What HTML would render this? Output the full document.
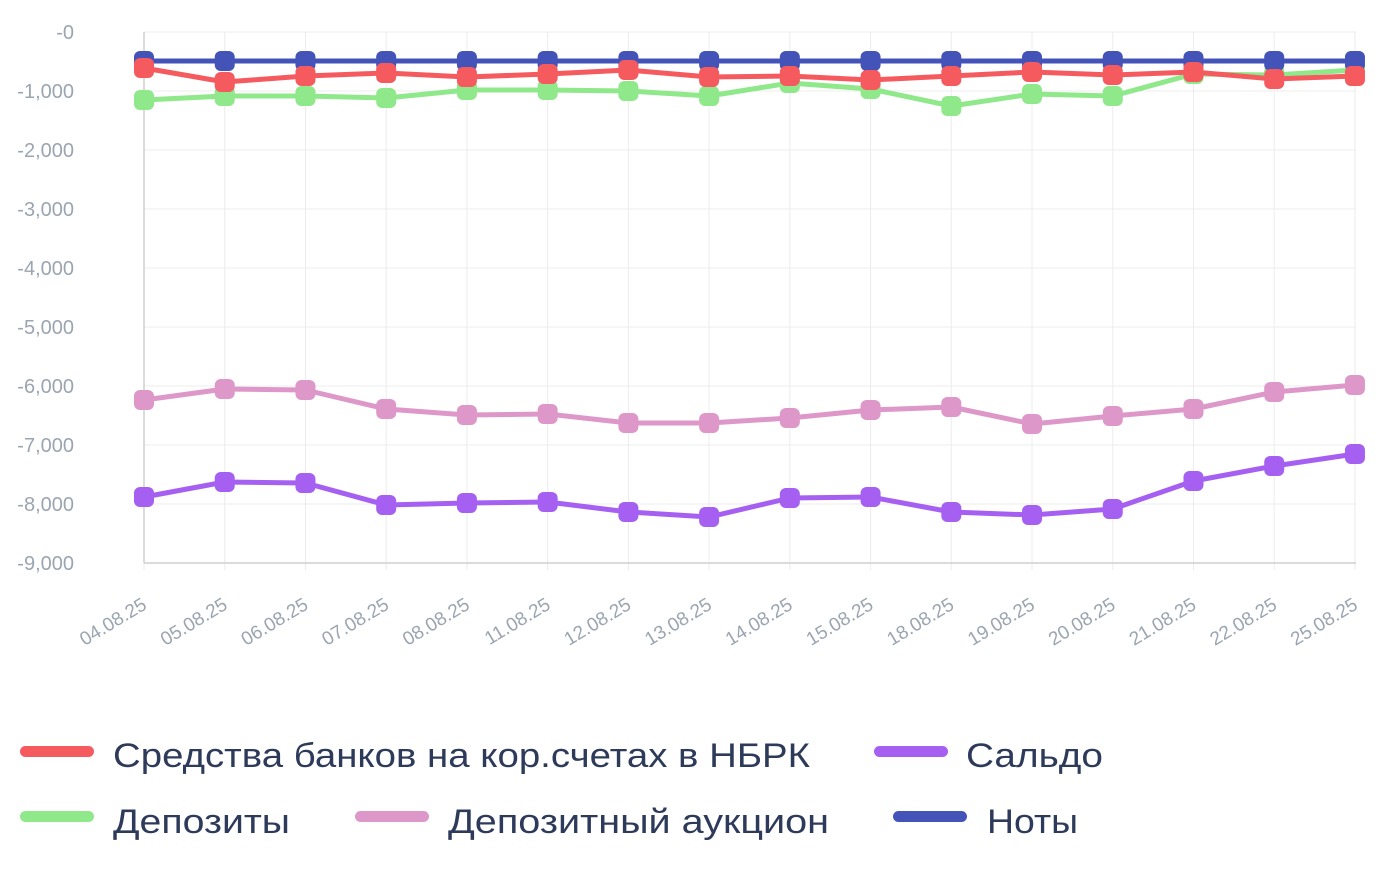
<!DOCTYPE html><html><head><meta charset="utf-8"><style>body{margin:0;background:#fff}svg{display:block}</style></head><body>
<svg width="1389" height="872" xmlns="http://www.w3.org/2000/svg" font-family="Liberation Sans, sans-serif">
<g id="grid" stroke="#ececec" stroke-width="1"></g>
<g id="ylab" fill="#9aa5b1" font-size="20" text-anchor="end"></g>
<g id="xlab" fill="#9aa5b1" font-size="19" text-anchor="end"></g>
<line x1="144" y1="32" x2="144" y2="563" stroke="#cfcfcf" stroke-width="1.5"/>
<line x1="144" y1="563" x2="1356" y2="563" stroke="#cfcfcf" stroke-width="1.5"/>
<g id="series"></g>
<g font-size="34" fill="#2d3a5a" lengthAdjust="spacingAndGlyphs">
<rect x="20" y="746" width="74" height="11" rx="5.5" fill="#f55a5f"/><text x="113" y="767" textLength="697" lengthAdjust="spacingAndGlyphs">Средства банков на кор.счетах в НБРК</text>
<rect x="874" y="746" width="74" height="11" rx="5.5" fill="#a560f2"/><text x="966" y="767" textLength="137" lengthAdjust="spacingAndGlyphs">Сальдо</text>
<rect x="20" y="811" width="74" height="11" rx="5.5" fill="#8fe88a"/><text x="113" y="833" textLength="177" lengthAdjust="spacingAndGlyphs">Депозиты</text>
<rect x="355" y="811" width="74" height="11" rx="5.5" fill="#dd98c9"/><text x="448" y="833" textLength="381" lengthAdjust="spacingAndGlyphs">Депозитный аукцион</text>
<rect x="893" y="811" width="74" height="11" rx="5.5" fill="#4353b8"/><text x="987" y="833" textLength="91" lengthAdjust="spacingAndGlyphs">Ноты</text>
</g>
</svg>
<script>
const ns="http://www.w3.org/2000/svg";
function el(p,t,a,txt){const e=document.createElementNS(ns,t);for(const k in a)e.setAttribute(k,a[k]);if(txt)e.textContent=txt;document.getElementById(p).appendChild(e);return e;}
const X=i=>144+i*80.73;
for(let k=0;k<=9;k++){const y=32+k*59;el('grid','line',{x1:144,x2:1356,y1:y,y2:y});el('ylab','text',{x:74,y:y+7},k==0?'-0':'-'+(k==1?'1,000':k+',000'));}
const d=["04","05","06","07","08","11","12","13","14","15","18","19","20","21","22","25"];
d.forEach((s,i)=>{el('grid','line',{x1:X(i),x2:X(i),y1:32,y2:570});el('xlab','text',{x:X(i)+4,y:608,transform:`rotate(-31 ${X(i)+4} 608)`},s+'.08.25');});
const S=[
["#dd98c9",[400,389,390,409,415,414,423,423,418,410,407,424,416,409,392,385]],
["#a560f2",[497,482,483,505,503,502,512,517,498,497,512,515,509,481,466,454]],
["#8fe88a",[100,96,96,98,90,90,91,96,83,89,106,94,96,74,75,70]],
["#4353b8",Array(16).fill(61)],
["#f55a5f",[68,82,76,73,77,74,70,77,76,80,76,72,75,72,79,76]]];
S.forEach(([c,v])=>{el('series','polyline',{points:v.map((y,i)=>X(i)+','+y).join(' '),fill:'none',stroke:c,'stroke-width':5,'stroke-linejoin':'round'});
v.forEach((y,i)=>el('series','rect',{x:X(i)-10,y:y-10,width:20,height:20,rx:6,fill:c}));});
</script>
</body></html>
